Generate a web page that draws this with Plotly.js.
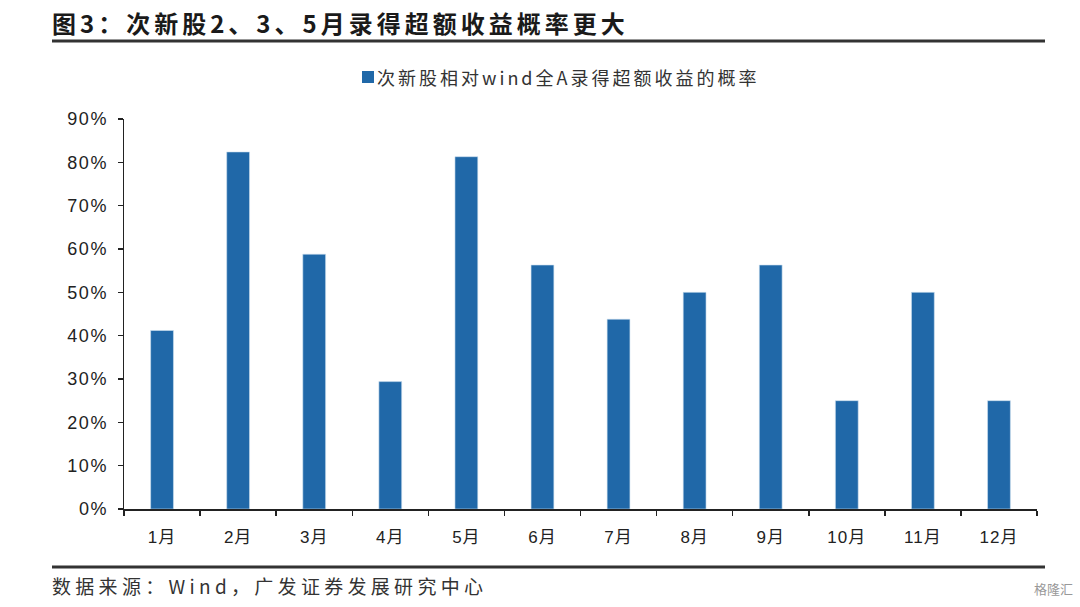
<!DOCTYPE html>
<html>
<head>
<meta charset="utf-8">
<script src="https://cdn.plot.ly/plotly-3.0.1.min.js"></script>
<style>
html,body{margin:0;padding:0;background:#fff;}
#chart{width:1080px;height:607px;}
.ls-title{letter-spacing:4px;}
.ls-src{letter-spacing:4.3px;}
.ls-leg{letter-spacing:3px;}
.ytick text{letter-spacing:1.5px;}
.xtick text{letter-spacing:1px;}
</style>
</head>
<body>
<div id="chart"></div>
<script>
const months = ["1月","2月","3月","4月","5月","6月","7月","8月","9月","10月","11月","12月"];
const probability = [0.412, 0.824, 0.588, 0.294, 0.813, 0.563, 0.438, 0.500, 0.563, 0.250, 0.500, 0.250];
const seriesName = "次新股相对wind全A录得超额收益的概率";
const chartTitle = "图3：次新股2、3、5月录得超额收益概率更大";
const sourceText = "数据来源：Wind，广发证券发展研究中心";
const watermark = "格隆汇";

const W = 1080, H = 607, L = 124, R = 43, T = 119, B = 98;
const pw = W - L - R, ph = H - T - B;
const px = X => (X - L) / pw;
const py = Y => (H - B - Y) / ph;

const fontFam = "Liberation Sans, Arial, Noto Sans CJK SC, sans-serif";
const cjk = "Noto Sans CJK SC, sans-serif";
const barColor = "#2068A8";

const data = [{
  type: "bar",
  x: months,
  y: probability,
  name: seriesName,
  width: 0.3,
  marker: {color: barColor, line: {color: "#cfe0f0", width: 0.6}},
  showlegend: false
}];

const layout = {
  width: W, height: H,
  margin: {l: L, r: R, t: T, b: B},
  paper_bgcolor: "#fff", plot_bgcolor: "#fff",
  font: {family: fontFam, color: "#222"},
  xaxis: {
    type: "category",
    showline: true, linecolor: "#222", linewidth: 1.5,
    ticks: "outside", ticklen: 5, tickcolor: "#222", tickwidth: 1.5,
    tickson: "boundaries",
    showgrid: false, zeroline: false,
    tickfont: {size: 17, family: fontFam, color: "#222"},
    ticklabelstandoff: 12,
    fixedrange: true
  },
  yaxis: {
    range: [0, 0.9], dtick: 0.1, tickformat: ".0%",
    showline: true, linecolor: "#222", linewidth: 1.5,
    ticks: "outside", ticklen: 5, tickcolor: "#222", tickwidth: 1.5,
    showgrid: false, zeroline: false,
    tickfont: {size: 18, family: fontFam, color: "#222"},
    ticklabelstandoff: 6,
    fixedrange: true
  },
  showlegend: false,
  shapes: [
    {type: "line", xref: "paper", yref: "paper", x0: px(52), x1: px(1045), y0: py(41), y1: py(41), line: {color: "#333", width: 3}},
    {type: "line", xref: "paper", yref: "paper", x0: px(52), x1: px(1045), y0: py(567), y1: py(567), line: {color: "#333", width: 3}},
    {type: "rect", xref: "paper", yref: "paper", x0: px(362), x1: px(374), y0: py(83), y1: py(71), line: {width: 0}, fillcolor: barColor}
  ],
  annotations: [
    {xref: "paper", yref: "paper", x: px(50), y: py(22), xanchor: "left", yanchor: "middle", align: "left", showarrow: false,
     text: "<b>" + chartTitle + "</b>", font: {size: 24, family: cjk, color: "#1a1a1a"}},
    {xref: "paper", yref: "paper", x: px(375), y: py(77), xanchor: "left", yanchor: "middle", align: "left", showarrow: false,
     text: seriesName, font: {size: 18, family: cjk, color: "#333"}},
    {xref: "paper", yref: "paper", x: px(50), y: py(585), xanchor: "left", yanchor: "middle", align: "left", showarrow: false,
     text: sourceText, font: {size: 19, family: cjk, color: "#333"}},
    {xref: "paper", yref: "paper", x: px(1075), y: py(588), xanchor: "right", yanchor: "middle", showarrow: false,
     text: watermark, font: {size: 13, family: cjk, color: "#999"}}
  ]
};

Plotly.newPlot("chart", data, layout, {displayModeBar: false, staticPlot: true}).then(() => {
  const anns = document.querySelectorAll(".annotation-text");
  const cls = ["ls-title", "ls-leg", "ls-src", null];
  anns.forEach((el, i) => { if (cls[i]) el.classList.add(cls[i]); });
});
</script>
</body>
</html>
